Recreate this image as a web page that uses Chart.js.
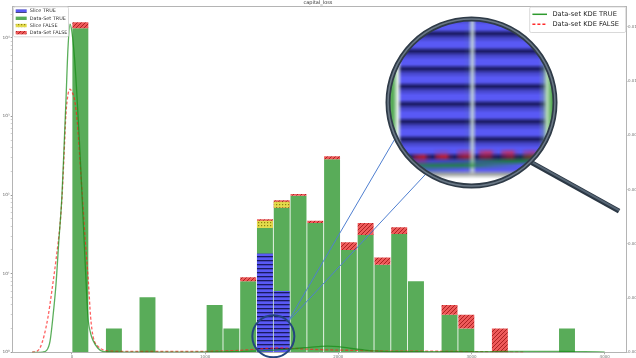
<!DOCTYPE html>
<html>
<head>
<meta charset="utf-8">
<script src="https://cdn.jsdelivr.net/npm/chart.js@4.4.1/dist/chart.umd.min.js"></script>
<style>
  html, body { margin: 0; padding: 0; background: #fff; }
  canvas { display: block; }
</style>
</head>
<body>
<canvas id="c" width="636" height="358" style="width:636px;height:358px"></canvas>
<script>
// ---- histogram of capital_loss (bin edges and counts per bin) ----
const binEdges = [0,126,252,378,504,630,756,882,1008,1134,1260,1386,1512,1638,1764,1890,2016,2142,2268,2394,2520,2646,2772,2898,3024,3150,3276,3402,3528,3654,3780];
const dataSetTrue  = [13160,0,2,0,5,0,0,0,4,2,8,38,69,98,44,284,20,31,13,32,8,0,3,2,0,0,0,0,0,2];
const dataSetFalse = [2540,0,0,0,0,0,0,0,0,0,1,11,17,5,3,26,5,13,3,7,0,0,1,1,0,2,0,0,0,0];
const sliceTrue    = [0,0,0,0,0,0,0,0,0,0,0,18,6,0,0,0,0,0,0,0,0,0,0,0,0,0,0,0,0,0];
const sliceFalse   = [0,0,0,0,0,0,0,0,0,0,0,9,13,0,0,0,0,0,0,0,0,0,0,0,0,0,0,0,0,0];

// ---- kernel density estimates (right axis) ----
const kdeTrueX = [-300,-260,-220,-190,-165,-143,-120,-100,-75,-60,-45,-30,-15,0,20,37,60,80,105,120,140,158,195,233,300,600,900,1200,1350,1450,1550,1650,1750,1850,1920,2000,2100,2200,2300,2450,2650,2850,3050,3250,3450,3650,3850,4000];
const kdeTrueY = [0,0,0.00001,0.00007,0.0004,0.0013,0.0025,0.0040,0.0058,0.0075,0.0093,0.0112,0.0121,0.0118,0.0108,0.0095,0.0074,0.0053,0.0027,0.0013,0.0007,0.00044,0.00015,0.00003,0.00001,0.00001,0.00001,0.00002,0.00004,0.00006,0.00009,0.00013,0.00017,0.00021,0.00023,0.00021,0.00014,0.00008,0.00004,0.00002,0.00002,0.00002,0.00002,0.00003,0.00003,0.00003,0.00002,0.00001];
const kdeFalseX = [-300,-260,-240,-210,-180,-150,-120,-90,-75,-60,-45,-30,-15,0,20,40,60,80,100,122,140,160,190,230,300,600,900,1200,1350,1450,1550,1650,1750,1850,2000,2150,2300,2500,2700,2900,3100,3300,3400];
const kdeFalseY = [0,0.00005,0.00016,0.0006,0.0013,0.0023,0.0034,0.0047,0.0057,0.0072,0.0088,0.0095,0.0097,0.0096,0.0093,0.0085,0.0071,0.0056,0.0041,0.0027,0.0013,0.00055,0.00025,0.0001,0.00004,0.00003,0.00003,0.00006,0.0001,0.00014,0.00016,0.00015,0.00012,0.0001,0.00008,0.00007,0.00005,0.00004,0.00004,0.00003,0.00002,0.00001,0];

// ---- tick values and labels ----
const xTicks = [0,1000,2000,3000,4000];
const yMajorTicks = [1,10,100,1000,10000];
const yTickLabels = ['10⁰','10¹','10²','10³','10⁴'];
const densityTicks = [0,0.002,0.004,0.006,0.008,0.010,0.012];

const FONT = 'DejaVu Sans';
Chart.defaults.font.family = FONT;

const canvas = document.getElementById('c');
const ctx0 = canvas.getContext('2d');

// hatch fills for the bar series
function makePattern(base, ink, kind) {
  const t = document.createElement('canvas');
  const s = kind === 'dots' ? 3 : 4;
  t.width = s; t.height = s;
  const g = t.getContext('2d');
  g.fillStyle = base; g.fillRect(0, 0, s, s);
  g.fillStyle = ink; g.strokeStyle = ink;
  if (kind === 'stripes') {
    g.fillRect(0, 0, s, 1.3);
  } else if (kind === 'dots') {
    g.fillRect(0, 0, 1.2, 1.2);
  } else if (kind === 'diag') {
    g.lineWidth = 1;
    g.beginPath();
    g.moveTo(0, s); g.lineTo(s, 0);
    g.moveTo(-1, 1); g.lineTo(1, -1);
    g.moveTo(s - 1, s + 1); g.lineTo(s + 1, s - 1);
    g.stroke();
  }
  return ctx0.createPattern(t, 'repeat');
}

const blueFill   = makePattern('#5959f5', 'rgba(15,15,70,0.85)', 'stripes');
const greenFill  = '#59ac59';
const yellowFill = makePattern('#e3db4c', 'rgba(130,120,10,0.9)', 'dots');
const redFill    = makePattern('#ee5a5a', 'rgba(160,25,25,0.85)', 'diag');

const centers = binEdges.slice(0, -1).map((e, i) => (e + binEdges[i + 1]) / 2);

// stacked segments on a log axis: each series becomes a floating [low, high] bar
const segTrue  = centers.map((x, i) => ({ x, y: dataSetTrue[i] > 0 ? [1, dataSetTrue[i]] : null }));
const segFalse = centers.map((x, i) => ({ x, y: dataSetFalse[i] > 0 ? [Math.max(dataSetTrue[i], 1), dataSetTrue[i] + dataSetFalse[i]] : null }));
const segSliceTrue  = centers.map((x, i) => ({ x, y: sliceTrue[i] > 0 ? [1, sliceTrue[i]] : null }));
const segSliceFalse = centers.map((x, i) => ({ x, y: sliceFalse[i] > 0 ? [Math.max(dataSetTrue[i], 1), dataSetTrue[i] + sliceFalse[i]] : null }));

const barCommon = {
  type: 'bar', yAxisID: 'y', grouped: false,
  barPercentage: 0.95, categoryPercentage: 1,
  borderWidth: 0, borderSkipped: false
};

// magnifier placed in data coordinates
const lens = { focusX: 1512, focusY: 1.6, centerX: 3000, centerY: 1500 };

const framePlugin = {
  id: 'frameTop',
  afterDraw(chart) {
    const { ctx, chartArea: a } = chart;
    ctx.save();
    ctx.strokeStyle = '#b4b4b4';
    ctx.lineWidth = 1;
    ctx.beginPath();
    ctx.moveTo(a.left, a.top + 0.5);
    ctx.lineTo(a.right, a.top + 0.5);
    ctx.stroke();
    ctx.restore();
  }
};

const legendPlugin = {
  id: 'boxLegends',
  afterDraw(chart) {
    const { ctx, chartArea: a } = chart;
    const ds = chart.data.datasets;
    const bars = ds.filter(d => d.type === 'bar');
    const lines = ds.filter(d => d.type === 'line');
    ctx.save();
    // left box: histogram series
    let bx = a.left + 0.8, by = a.top + 0.8, bw = 55, bh = 30;
    ctx.fillStyle = 'rgba(255,255,255,0.82)';
    ctx.strokeStyle = '#cfcfcf';
    ctx.lineWidth = 0.8;
    ctx.beginPath(); ctx.roundRect(bx, by, bw, bh, 1.5); ctx.fill(); ctx.stroke();
    ctx.font = '4.9px "' + FONT + '"';
    ctx.textBaseline = 'middle';
    bars.forEach((d, i) => {
      const cy = by + 4.3 + i * 7.2;
      ctx.fillStyle = d.backgroundColor;
      ctx.fillRect(bx + 2.2, cy - 1.7, 11, 3.4);
      ctx.fillStyle = '#333';
      ctx.fillText(d.label, bx + 16.3, cy);
    });
    // right box: density curves
    bw = 96; bh = 25.5; bx = a.right - bw - 0.3; by = a.top + 1;
    ctx.fillStyle = 'rgba(255,255,255,0.82)';
    ctx.strokeStyle = '#cfcfcf';
    ctx.beginPath(); ctx.roundRect(bx, by, bw, bh, 1.5); ctx.fill(); ctx.stroke();
    ctx.font = '6.7px "' + FONT + '"';
    lines.forEach((d, i) => {
      const cy = by + 7.3 + i * 10;
      ctx.strokeStyle = d.legendColor;
      ctx.lineWidth = 1.5;
      ctx.setLineDash(d.borderDash || []);
      ctx.beginPath(); ctx.moveTo(bx + 2.7, cy); ctx.lineTo(bx + 17.3, cy); ctx.stroke();
      ctx.setLineDash([]);
      ctx.fillStyle = '#222';
      ctx.fillText(d.label, bx + 22.7, cy + 0.3);
    });
    ctx.restore();
  }
};

const lensPlugin = {
  id: 'magnifier',
  afterDraw(chart) {
    const { ctx, canvas: cv } = chart;
    const dpr = chart.currentDevicePixelRatio || 1;
    const xs = chart.scales.x, ys = chart.scales.y;
    const fx = xs.getPixelForValue(lens.focusX), fy = ys.getPixelForValue(lens.focusY);
    const cx = xs.getPixelForValue(lens.centerX), cy = ys.getPixelForValue(lens.centerY);
    const R = 85, rIn = 82.5, mag = 4.4, rf = 21;
    const src = rIn / mag;

    // snapshot of the focused region before anything is drawn over it
    const off = document.createElement('canvas');
    off.width = Math.round(2 * src * dpr * 4);
    off.height = off.width;
    const og = off.getContext('2d');
    og.imageSmoothingEnabled = true;
    og.fillStyle = '#fff'; og.fillRect(0, 0, off.width, off.height);
    og.drawImage(cv, (fx - src) * dpr, (fy - src) * dpr, 2 * src * dpr, 2 * src * dpr, 0, 0, off.width, off.height);

    ctx.save();
    // connector lines from the focus ring to the lens
    const a0 = -45 * Math.PI / 180;
    const sx = fx + rf * Math.cos(a0), sy = fy + rf * Math.sin(a0);
    ctx.strokeStyle = '#4f7fd0';
    ctx.lineWidth = 1;
    [154.5, 122.6].forEach(deg => {
      const t = deg * Math.PI / 180;
      ctx.beginPath();
      ctx.moveTo(sx, sy);
      ctx.lineTo(cx + R * Math.cos(t), cy + R * Math.sin(t));
      ctx.stroke();
    });

    // magnified view
    ctx.save();
    ctx.beginPath(); ctx.arc(cx, cy, rIn, 0, Math.PI * 2); ctx.clip();
    ctx.fillStyle = '#fff'; ctx.fillRect(cx - rIn, cy - rIn, 2 * rIn, 2 * rIn);
    ctx.imageSmoothingEnabled = true;
    ctx.filter = 'blur(0.6px)';
    ctx.drawImage(off, cx - rIn, cy - rIn, 2 * rIn, 2 * rIn);
    ctx.filter = 'none';
    ctx.restore();

    // handle
    const h0 = 45 * Math.PI / 180, hd = 29 * Math.PI / 180, hl = 100;
    const hx = cx + R * Math.cos(h0), hy = cy + R * Math.sin(h0);
    const ex = hx + hl * Math.cos(hd), ey = hy + hl * Math.sin(hd);
    ctx.lineCap = 'butt';
    ctx.strokeStyle = '#2b3744'; ctx.lineWidth = 5;
    ctx.beginPath(); ctx.moveTo(hx, hy); ctx.lineTo(ex, ey); ctx.stroke();
    ctx.strokeStyle = '#566574'; ctx.lineWidth = 2;
    ctx.beginPath(); ctx.moveTo(hx, hy - 0.8); ctx.lineTo(ex, ey - 0.8); ctx.stroke();

    // lens rim
    ctx.strokeStyle = '#2f3b48'; ctx.lineWidth = 5;
    ctx.beginPath(); ctx.arc(cx, cy, R - 1.5, 0, Math.PI * 2); ctx.stroke();
    ctx.strokeStyle = '#6a7886'; ctx.lineWidth = 1.6;
    ctx.beginPath(); ctx.arc(cx, cy, R - 1.5, 0, Math.PI * 2); ctx.stroke();

    // focus ring
    ctx.strokeStyle = '#24457f'; ctx.lineWidth = 2;
    ctx.beginPath(); ctx.arc(fx, fy, rf, 0, Math.PI * 2); ctx.stroke();
    ctx.restore();
  }
};

new Chart(canvas, {
  type: 'bar',
  data: {
    datasets: [
      { ...barCommon, label: 'Slice TRUE', data: segSliceTrue, backgroundColor: blueFill, order: 1 },
      { ...barCommon, label: 'Data-Set TRUE', data: segTrue, backgroundColor: greenFill, order: 4 },
      { ...barCommon, label: 'Slice FALSE', data: segSliceFalse, backgroundColor: yellowFill, order: 2 },
      { ...barCommon, label: 'Data-Set FALSE', data: segFalse, backgroundColor: redFill, order: 3 },
      { type: 'line', label: 'Data-set KDE TRUE', yAxisID: 'y1', order: 0,
        data: kdeTrueX.map((x, i) => ({ x, y: kdeTrueY[i] })),
        borderColor: 'rgba(20,140,20,0.7)', legendColor: '#2e9a2e', borderWidth: 1.3,
        pointRadius: 0, fill: false, cubicInterpolationMode: 'monotone' },
      { type: 'line', label: 'Data-set KDE FALSE', yAxisID: 'y1', order: 0,
        data: kdeFalseX.map((x, i) => ({ x, y: kdeFalseY[i] })),
        borderColor: 'rgba(255,30,30,0.7)', legendColor: '#ff2a2a', borderWidth: 1.3, borderDash: [3, 2],
        pointRadius: 0, fill: false, cubicInterpolationMode: 'monotone' }
    ]
  },
  options: {
    responsive: false,
    animation: false,
    events: [],
    layout: { padding: 0 },
    plugins: {
      legend: { display: false },
      tooltip: { enabled: false },
      title: {
        display: true, text: 'capital_loss', color: '#333',
        font: { size: 5, weight: 'normal', family: FONT }, padding: { top: 0, bottom: 0 }
      }
    },
    scales: {
      x: {
        type: 'linear', min: -445, max: 4160, offset: false,
        afterBuildTicks: s => { s.ticks = xTicks.map(v => ({ value: v })); },
        ticks: { font: { size: 4 }, color: '#777', padding: 0, maxRotation: 0, autoSkip: false, callback: v => String(v) },
        grid: { drawOnChartArea: false, offset: false, tickLength: 2, color: '#aaa' },
        border: { color: '#b4b4b4', width: 1 },
        afterFit: s => { s.height = 5.7; }
      },
      y: {
        type: 'logarithmic', position: 'left', min: 1, max: 25300,
        afterBuildTicks: s => {
          const t = [];
          yMajorTicks.forEach(m => { for (let k = 1; k <= 9; k++) { const v = m * k; if (v <= 25300) t.push({ value: v, major: k === 1 }); } });
          s.ticks = t;
        },
        ticks: {
          font: { size: 4.3 }, color: '#666', padding: 1, autoSkip: false,
          callback: v => { const i = yMajorTicks.indexOf(v); return i >= 0 ? yTickLabels[i] : ''; }
        },
        grid: {
          drawOnChartArea: false, tickLength: 2,
          tickColor: c => (c.tick && yMajorTicks.includes(c.tick.value)) ? '#999' : '#cfcfcf'
        },
        border: { color: '#b4b4b4', width: 1 },
        afterFit: s => { s.width = 12.7; }
      },
      y1: {
        type: 'linear', position: 'right', min: 0, max: 0.01277,
        afterBuildTicks: s => { s.ticks = densityTicks.map(v => ({ value: v })); },
        ticks: { font: { size: 4 }, color: '#777', padding: 0.5, autoSkip: false, callback: v => v.toFixed(3) },
        grid: { drawOnChartArea: false, tickLength: 1.5, color: '#aaa' },
        border: { color: '#b4b4b4', width: 1 },
        afterFit: s => { s.width = 10; }
      }
    }
  },
  plugins: [framePlugin, legendPlugin, lensPlugin]
});
</script>
</body>
</html>
